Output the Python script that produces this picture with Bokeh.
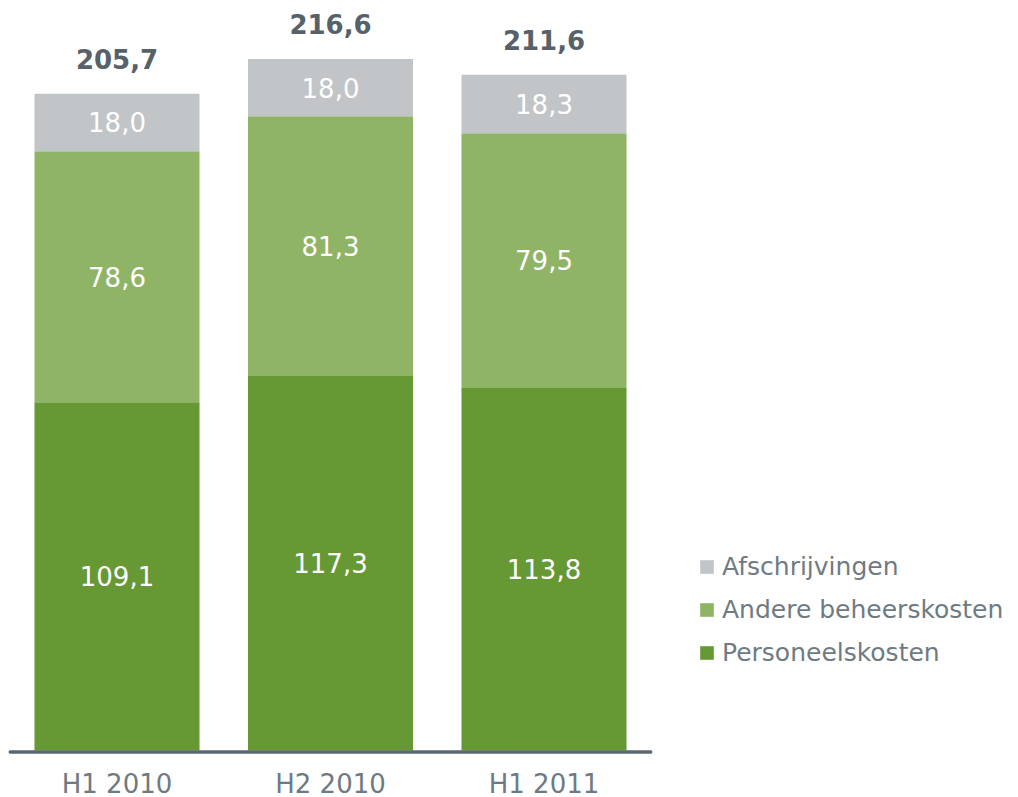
from bokeh.plotting import figure
from bokeh.models import ColumnDataSource, Range1d, Legend, LegendItem
from bokeh.core.properties import value
from bokeh.embed import file_html
from bokeh.resources import INLINE

categories = ["H1 2010", "H2 2010", "H1 2011"]
personeelskosten = [109.1, 117.3, 113.8]
andere_beheerskosten = [78.6, 81.3, 79.5]
afschrijvingen = [18.0, 18.0, 18.3]
series_names = ["Personeelskosten", "Andere beheerskosten", "Afschrijvingen"]
colors = ["#669933", "#8fb466", "#c1c5c8"]


def fmt(v):
    return f"{v:.1f}".replace(".", ",")


n = len(categories)
xs = list(range(n))
totals = [round(a + b + c, 1) for a, b, c in zip(personeelskosten, andere_beheerskosten, afschrijvingen)]

px_per_unit = 3.193
FONT = "DejaVu Sans"
W, H = 1018, 797
BASE = 750  # pixel row of the zero line

src = ColumnDataSource(dict(
    x=xs,
    pers=personeelskosten,
    andere=andere_beheerskosten,
    afschr=afschrijvingen,
    mid_pers=[v / 2 for v in personeelskosten],
    mid_andere=[a + b / 2 for a, b in zip(personeelskosten, andere_beheerskosten)],
    mid_afschr=[a + b + c / 2 for a, b, c in zip(personeelskosten, andere_beheerskosten, afschrijvingen)],
    lab_pers=[fmt(v) for v in personeelskosten],
    lab_andere=[fmt(v) for v in andere_beheerskosten],
    lab_afschr=[fmt(v) for v in afschrijvingen],
    total_y=[t + 34.5 / px_per_unit for t in totals],
    total_lab=[fmt(t) for t in totals],
    cat_y=[-33 / px_per_unit] * n,
    cat=categories,
))

x_start = -116.5 / 213.5
p = figure(width=W, height=H,
           x_range=Range1d(x_start, x_start + W / 213.5),
           y_range=Range1d(-(H - BASE) / px_per_unit, BASE / px_per_unit),
           output_backend="svg", toolbar_location=None,
           x_axis_location=None, y_axis_location=None,
           min_border=0, min_border_left=0, min_border_right=0,
           min_border_top=0, min_border_bottom=0)
p.grid.visible = False
p.outline_line_color = None
p.background_fill_color = "white"
p.border_fill_color = "white"

rs = p.vbar_stack(["pers", "andere", "afschr"], x="x", width=0.773,
                  color=colors, line_color=None, source=src)

for ycol, tcol in [("mid_pers", "lab_pers"), ("mid_andere", "lab_andere"), ("mid_afschr", "lab_afschr")]:
    p.text(x="x", y=ycol, text=tcol, source=src, text_color="white",
           text_font=value(FONT), text_font_size="26px",
           text_align="center", text_baseline="middle")

p.text(x="x", y="total_y", text="total_lab", source=src, text_color="#56616a",
       text_font=value(FONT), text_font_size="26px", text_font_style="bold",
       text_align="center", text_baseline="middle")

p.text(x="x", y="cat_y", text="cat", source=src, text_color="#6e7a82",
       text_font=value(FONT), text_font_size="26px",
       text_align="center", text_baseline="middle")

p.segment(x0=[-0.5], y0=[-0.45], x1=[n - 0.5], y1=[-0.45], line_color="#5b6770",
          line_width=3.5, line_cap="round")

legend = Legend(
    items=[LegendItem(label=series_names[i], renderers=[rs[i]]) for i in reversed(range(len(series_names)))],
    location=(698, 130),
    orientation="vertical",
    glyph_width=17, glyph_height=17,
    label_standoff=7, label_height=17,
    spacing=14, padding=0, margin=0,
    border_line_color=None, background_fill_alpha=0,
    label_text_font=FONT, label_text_font_size="25px",
    label_text_color="#6f7b83", label_text_baseline="middle",
)
p.add_layout(legend)

open("out.html", "w").write(file_html(p, INLINE))
